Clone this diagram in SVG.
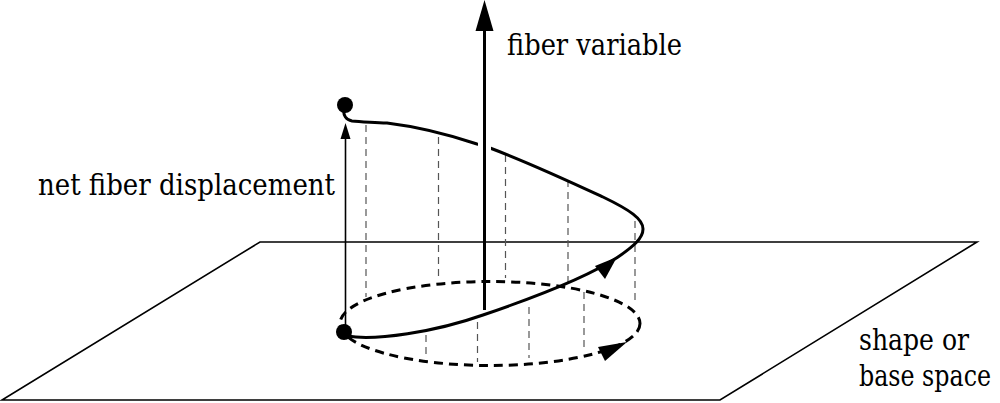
<svg xmlns="http://www.w3.org/2000/svg" width="1000" height="403" viewBox="0 0 1000 403">
<style>
.plane{fill:none;stroke:#000;stroke-width:1.6}
.proj{stroke:#555;stroke-width:1.2;stroke-dasharray:7,5;fill:none}
.orbit{fill:none;stroke:#000;stroke-width:3;stroke-dasharray:9,6}
.path{fill:none;stroke:#000;stroke-width:3;stroke-linecap:round}
.head{fill:#000;stroke:none}
text{font-size:30px;fill:#000}
</style>
<rect width="1000" height="403" fill="#fff"/>
<g id="base-plane">
<polygon class="plane" points="260,242 977,242 720,400 2,400"/>
</g>
<g id="connectors">
<g id="projections">
<line class="proj" x1="366" y1="125" x2="366" y2="297"/>
<line class="proj" x1="438.5" y1="137" x2="438.5" y2="281"/>
<line class="proj" x1="505.5" y1="155" x2="505.5" y2="278"/>
<line class="proj" x1="568" y1="180" x2="568" y2="284"/>
<line class="proj" x1="635" y1="221" x2="635" y2="304"/>
<line class="proj" x1="426" y1="335" x2="426" y2="356"/>
<line class="proj" x1="477.5" y1="322" x2="477.5" y2="362"/>
<line class="proj" x1="529" y1="307" x2="529" y2="358"/>
<line class="proj" x1="584" y1="292" x2="584" y2="348"/>
</g>
<ellipse id="base-orbit" class="orbit" cx="490" cy="323.5" rx="150" ry="42"/>
<polygon id="orbit-arrow" class="head" points="627,342 598,347 605,361"/>
<path id="fiber-path" class="path" d="M347,336 C375,341 435,332 483,315 C530,299 585,279 618,257 C634,246 643,238 643,229 C643,219 630,210 603,197 C575,184 530,163 490,148 C485,146 482,145 477,144 C450,135 420,127 387,123 C370,122 360,122 352,121 C346,120 343,115 344,110"/>
<polygon id="path-arrow" class="head" points="617,257 595,266 605,279"/>
<line id="displacement" x1="345.5" y1="332" x2="345.5" y2="134" stroke="#000" stroke-width="1.6"/>
<polygon class="head" points="345.5,123 340.5,139 350.5,139"/>
<line x1="484.5" y1="136" x2="484.5" y2="156" stroke="#fff" stroke-width="13"/>
<line id="fiber-axis" x1="484.5" y1="310" x2="484.5" y2="26" stroke="#000" stroke-width="3"/>
<polygon class="head" points="484.5,0 475.5,31 493.5,31"/>
</g>
<g id="start-point"><circle cx="344" cy="332" r="8" fill="#000"/></g>
<g id="end-point"><circle cx="345" cy="105" r="8" fill="#000"/></g>
<g id="label-fiber"><text font-family="DejaVu Serif, serif" x="507" y="55" textLength="175" lengthAdjust="spacingAndGlyphs">fiber variable</text></g>
<g id="label-displacement"><text font-family="DejaVu Serif, serif" x="38" y="195" textLength="297" lengthAdjust="spacingAndGlyphs">net fiber displacement</text></g>
<g id="label-base"><text font-family="DejaVu Serif, serif" x="859" y="350" textLength="110" lengthAdjust="spacingAndGlyphs">shape or</text><text font-family="DejaVu Serif, serif" x="859" y="386" font-size="29" textLength="132" lengthAdjust="spacingAndGlyphs">base space</text></g>
</svg>
